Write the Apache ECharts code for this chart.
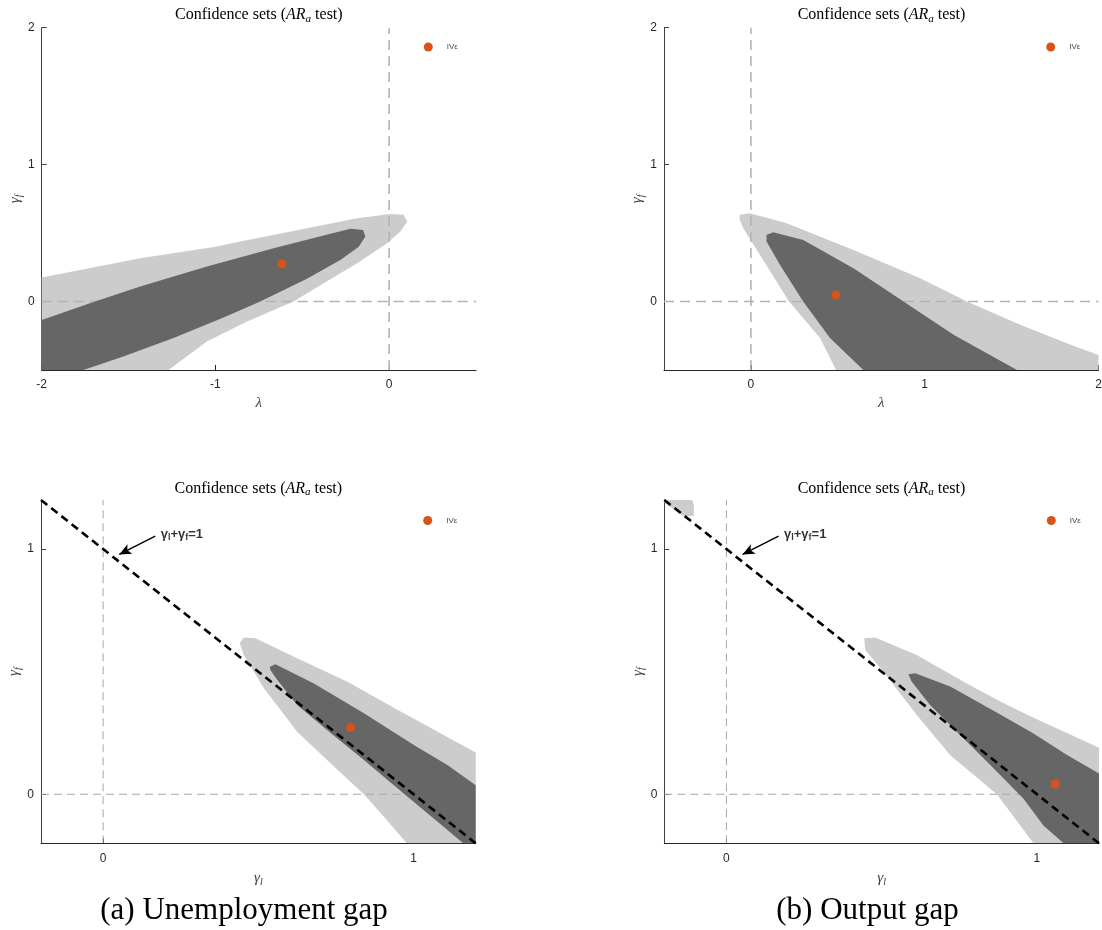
<!DOCTYPE html>
<html>
<head>
<meta charset="utf-8">
<title>Confidence sets (AR_a test)</title>
<script src="https://cdn.jsdelivr.net/npm/echarts@6/dist/echarts.min.js"></script>
<style>
  html, body { margin: 0; padding: 0; background: #fff; }
  #main { width: 1102px; height: 930px; }
</style>
</head>
<body>
<div id="main"></div>
<script>
// outlines of the confidence sets, as [x, gamma_f]
// (a) unemployment gap, lambda vs gamma_f
var uLight = [[-2, 0.175], [-1.433, 0.317], [-1.0, 0.40], [-0.857, 0.438], [-0.473, 0.535], [-0.184, 0.609],
  [0.007, 0.640], [0.084, 0.633], [0.104, 0.584], [0.065, 0.511], [-0.012, 0.426], [-0.184, 0.280],
  [-0.377, 0.134], [-0.55, 0], [-0.818, -0.146], [-1.049, -0.292], [-1.27, -0.5], [-2, -0.5]];
var uDark = [[-2, -0.134], [-1.693, 0], [-1.433, 0.110], [-1.049, 0.256], [-0.665, 0.390], [-0.377, 0.482],
  [-0.223, 0.531], [-0.150, 0.523], [-0.137, 0.475], [-0.175, 0.401], [-0.281, 0.304], [-0.473, 0.166],
  [-0.742, 0], [-0.953, -0.117], [-1.241, -0.267], [-1.530, -0.401], [-1.76, -0.5], [-2, -0.5]];
// (b) output gap, lambda vs gamma_f
var oLight = [[-0.067, 0.608], [-0.063, 0.633], [-0.006, 0.645], [0.206, 0.572], [0.590, 0.377], [0.974, 0.171],
  [1.243, 0], [1.550, -0.170], [1.839, -0.316], [2, -0.39], [2, -0.5], [0.49, -0.5], [0.398, -0.267],
  [0.219, 0], [0.071, 0.304], [-0.044, 0.535]];
var oDark = [[0.090, 0.487], [0.129, 0.506], [0.301, 0.450], [0.590, 0.244], [0.878, 0], [1.166, -0.243],
  [1.531, -0.5], [0.647, -0.5], [0.455, -0.267], [0.301, 0], [0.167, 0.268], [0.090, 0.438]];
// (a) unemployment gap, gamma_l vs gamma_f
var uLightG = [[0.440, 0.616], [0.453, 0.639], [0.491, 0.636], [0.625, 0.555], [0.787, 0.459], [0.948, 0.345],
  [1.110, 0.232], [1.2, 0.170], [1.2, -0.2], [0.978, -0.2], [0.910, -0.1], [0.840, 0], [0.733, 0.125],
  [0.625, 0.255], [0.518, 0.432], [0.453, 0.568]];
var uDarkG = [[0.537, 0.520], [0.555, 0.530], [0.679, 0.452], [0.840, 0.330], [1.002, 0.200], [1.110, 0.118],
  [1.2, 0.037], [1.2, -0.2], [1.160, -0.2], [1.056, -0.090], [0.948, 0.025], [0.840, 0.140], [0.733, 0.250],
  [0.625, 0.364], [0.561, 0.466], [0.539, 0.507]];
// (b) output gap, gamma_l vs gamma_f
var oLightG = [[0.447, 0.588], [0.444, 0.636], [0.479, 0.639], [0.613, 0.568], [0.774, 0.452], [0.882, 0.378],
  [0.989, 0.312], [1.097, 0.250], [1.2, 0.190], [1.2, -0.2], [0.989, -0.2], [0.914, -0.072], [0.871, 0],
  [0.721, 0.159], [0.613, 0.323], [0.506, 0.500]];
var oLightGCorner = [[-0.2, 1.2], [-0.11, 1.2], [-0.105, 1.18], [-0.105, 1.135], [-0.14, 1.135], [-0.2, 1.19]];
var oDarkG = [[0.586, 0.489], [0.608, 0.493], [0.721, 0.439], [0.882, 0.325], [0.989, 0.248], [1.097, 0.160],
  [1.2, 0.085], [1.2, -0.2], [1.086, -0.2], [1.021, -0.127], [0.957, -0.018], [0.850, 0.119], [0.742, 0.255],
  [0.656, 0.364], [0.597, 0.459]];

// IV point estimates
var ivU = [[-0.617, 0.275]];
var ivO = [[0.488, 0.047]];
var ivUG = [[0.797, 0.272]];
var ivOG = [[1.059, 0.042]];

// ticks
var lambdaTicksU = [-2, -1, 0];
var lambdaTicksO = [0, 1, 2];
var gfTicksTop = [0, 1, 2];
var glTicks = [0, 1];
var gfTicksBottom = [0, 1];

// gamma_l + gamma_f = 1 and its annotation
var sumLine = [[-0.2, 1.2], [1.2, -0.2]];
var arrowFrom = [0.168, 1.053];
var arrowTo = [0.052, 0.978];
var arrowTextAt = [0.184, 1.060];

var ranges = [
  {xMin: -2, xMax: 0.5, yMin: -0.5, yMax: 2},
  {xMin: -0.5, xMax: 2, yMin: -0.5, yMax: 2},
  {xMin: -0.2, xMax: 1.2, yMin: -0.2, yMax: 1.2},
  {xMin: -0.2, xMax: 1.2, yMin: -0.2, yMax: 1.2}
];
var xTicks = [lambdaTicksU, lambdaTicksO, glTicks, glTicks];
var yTicks = [gfTicksTop, gfTicksTop, gfTicksBottom, gfTicksBottom];
var xNames = ['{g|λ}', '{g|λ}', '{g|γ}{s|l}', '{g|γ}{s|l}'];

var LIGHT = '#cccccc', DARK = '#666666', ORANGE = '#d95319';
var serif = 'Liberation Serif', sans = 'Liberation Sans';

var grids = [
  {left: 41.7, top: 27.7, width: 434.3, height: 342.3},
  {left: 664, top: 27.7, width: 434.5, height: 342.3},
  {left: 41, top: 500, width: 434.7, height: 343.3},
  {left: 664.3, top: 500, width: 434.7, height: 343.3}
].map(function (g) {
  g.containLabel = false;
  g.outerBoundsMode = 'none';
  return g;
});

var nameRich = {
  g: {fontFamily: serif, fontStyle: 'italic', fontSize: 15, color: '#404040', lineHeight: 18, verticalAlign: 'middle'},
  s: {fontFamily: serif, fontStyle: 'italic', fontSize: 10, color: '#404040', lineHeight: 10, verticalAlign: 'bottom'}
};

var xAxes = ranges.map(function (r, i) {
  return {
    type: 'value', gridIndex: i, min: r.xMin, max: r.xMax,
    name: xNames[i], nameLocation: 'middle', nameGap: i < 2 ? 24 : 26,
    nameTextStyle: {rich: nameRich},
    axisLine: {show: true, onZero: false, lineStyle: {color: '#262626', width: 1}},
    axisTick: {show: true, inside: true, length: 5, customValues: xTicks[i], lineStyle: {color: '#262626'}},
    axisLabel: {customValues: xTicks[i], margin: 9, fontSize: 12, fontFamily: sans, color: '#262626'},
    splitLine: {show: false}
  };
});
var yAxes = ranges.map(function (r, i) {
  return {
    type: 'value', gridIndex: i, min: r.yMin, max: r.yMax,
    name: '{g|γ}{s|f}', nameLocation: 'middle', nameRotate: 90, nameGap: 15,
    nameTextStyle: {rich: nameRich},
    axisLine: {show: true, onZero: false, lineStyle: {color: '#404040', width: 1}},
    axisTick: {show: true, inside: true, length: 5, customValues: yTicks[i], lineStyle: {color: '#404040'}},
    axisLabel: {customValues: yTicks[i], margin: 7, fontSize: 12, fontFamily: sans, color: '#262626'},
    splitLine: {show: false}
  };
});

var series = [];
function poly(idx, pts, color, z) {
  series.push({
    type: 'custom', xAxisIndex: idx, yAxisIndex: idx, z: z, silent: true, clip: true,
    data: pts,
    renderItem: function (params, api) {
      if (params.dataIndex !== 0) return null;
      return {
        type: 'polygon',
        shape: {points: pts.map(function (p) { return api.coord(p); })},
        style: {fill: color}
      };
    }
  });
}
function zeroLines(idx, style) {
  var r = ranges[idx];
  series.push({type: 'line', xAxisIndex: idx, yAxisIndex: idx, z: 2, silent: true, symbol: 'none',
    data: [[0, r.yMin], [0, r.yMax]], lineStyle: style});
  series.push({type: 'line', xAxisIndex: idx, yAxisIndex: idx, z: 2, silent: true, symbol: 'none',
    data: [[r.xMin, 0], [r.xMax, 0]], lineStyle: style});
}
function ivPoint(idx, pt) {
  series.push({type: 'scatter', name: 'IVε', xAxisIndex: idx, yAxisIndex: idx, z: 6, silent: true,
    symbol: 'circle', symbolSize: 9, itemStyle: {color: ORANGE, opacity: 1}, data: pt});
}
function sumLineWithArrow(idx) {
  series.push({
    type: 'line', xAxisIndex: idx, yAxisIndex: idx, z: 5, silent: true, symbol: 'none',
    data: sumLine, lineStyle: {color: '#000', width: 2.6, type: [8, 5]},
    markLine: {
      silent: true, symbol: ['none', 'arrow'], symbolSize: [8, 12],
      lineStyle: {type: 'solid', color: '#000', width: 1.4},
      label: {show: false},
      data: [[{coord: arrowFrom}, {coord: arrowTo}]]
    }
  });
  series.push({
    type: 'scatter', xAxisIndex: idx, yAxisIndex: idx, z: 6, silent: true,
    symbolSize: 1, itemStyle: {color: 'rgba(0,0,0,0)'}, data: [arrowTextAt],
    label: {
      show: true, position: 'right', distance: 0,
      formatter: '{g|γ}{s|l}{g|+γ}{s|f}{g|=1}',
      rich: {
        g: {fontFamily: sans, fontWeight: 'bold', fontSize: 13, color: '#000', lineHeight: 16, verticalAlign: 'middle'},
        s: {fontFamily: sans, fontWeight: 'bold', fontSize: 9, color: '#000', lineHeight: 9, verticalAlign: 'bottom'}
      }
    }
  });
}

var topDash = {color: '#b3b3b3', width: 1.6, type: [10, 6]};
var bottomDash = {color: '#a6a6a6', width: 1, type: [8, 5]};

poly(0, uLight, LIGHT, 1); zeroLines(0, topDash); poly(0, uDark, DARK, 3); ivPoint(0, ivU);
poly(1, oLight, LIGHT, 1); zeroLines(1, topDash); poly(1, oDark, DARK, 3); ivPoint(1, ivO);
poly(2, uLightG, LIGHT, 1); zeroLines(2, bottomDash); poly(2, uDarkG, DARK, 3); sumLineWithArrow(2); ivPoint(2, ivUG);
poly(3, oLightG, LIGHT, 1); poly(3, oLightGCorner, LIGHT, 1); zeroLines(3, bottomDash); poly(3, oDarkG, DARK, 3);
sumLineWithArrow(3); ivPoint(3, ivOG);

var legendAt = [[423.8, 42.5], [1046.2, 42.5], [423.2, 516], [1046.8, 516]];
var legends = legendAt.map(function (p) {
  return {
    data: ['IVε'], left: p[0], top: p[1], padding: 0, selectedMode: false,
    icon: 'circle', itemWidth: 9, itemHeight: 9,
    textStyle: {fontFamily: sans, fontSize: 8, color: '#444', padding: [0, 0, 0, 9]}
  };
});

var titleRich = {
  t: {fontFamily: serif, fontSize: 16, fill: '#000', lineHeight: 19, verticalAlign: 'middle'},
  i: {fontFamily: serif, fontSize: 16, fontStyle: 'italic', fill: '#000', lineHeight: 19, verticalAlign: 'middle'},
  s: {fontFamily: serif, fontSize: 11, fontStyle: 'italic', fill: '#000', lineHeight: 11, verticalAlign: 'bottom'}
};
var titleAt = [[258.8, 15], [881.5, 15], [258.3, 488.3], [881.5, 488.3]];
var graphics = titleAt.map(function (p) {
  return {
    type: 'text', x: p[0], y: p[1], silent: true,
    style: {text: '{t|Confidence sets (}{i|AR}{s|a}{t| test)}', rich: titleRich,
      align: 'center', verticalAlign: 'middle'}
  };
});
graphics.push({type: 'text', x: 244, y: 911, silent: true,
  style: {text: '(a) Unemployment gap', fontFamily: serif, fontSize: 31, fill: '#000', align: 'center', verticalAlign: 'middle'}});
graphics.push({type: 'text', x: 867.5, y: 911, silent: true,
  style: {text: '(b) Output gap', fontFamily: serif, fontSize: 31, fill: '#000', align: 'center', verticalAlign: 'middle'}});

var chart = echarts.init(document.getElementById('main'));
chart.setOption({
  animation: false,
  backgroundColor: '#fff',
  grid: grids,
  xAxis: xAxes,
  yAxis: yAxes,
  legend: legends,
  graphic: graphics,
  series: series
});
</script>
</body>
</html>
